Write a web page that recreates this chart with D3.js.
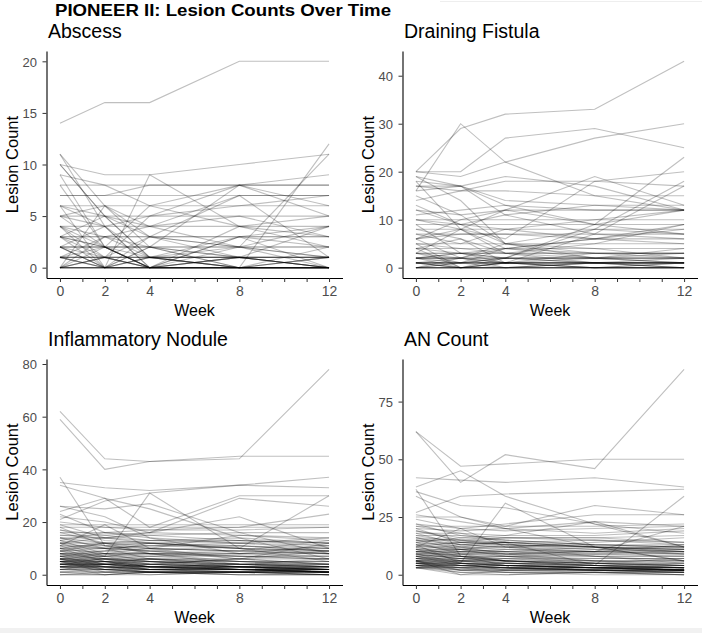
<!DOCTYPE html>
<html>
<head>
<meta charset="utf-8">
<script src="https://cdn.jsdelivr.net/npm/d3@7"></script>
<style>
  html, body { margin: 0; padding: 0; background: #fff; }
  svg { display: block; font-family: "Liberation Sans", Arial, Helvetica, sans-serif; }
</style>
</head>
<body>
<svg id="chart" width="702" height="633"></svg>
<script>
const chartTitle = "PIONEER II: Lesion Counts Over Time";
const weeks = [0, 2, 4, 8, 12];
const xTickValues = [0,1,2,3,4,5,6,7,8,9,10,11,12];
const xTickLabels = [0, 2, 4, 8, 12];
const panelTitles = ["Abscess", "Draining Fistula", "Inflammatory Nodule", "AN Count"];
const yTicksAbscess = [0, 5, 10, 15, 20];
const yTicksFistula = [0, 10, 20, 30, 40];
const yTicksNodule = [0, 20, 40, 60, 80];
const yTicksAN = [0, 25, 50, 75];

// per-patient counts at weeks 0,2,4,8,12
const abscessData = [
[14,16,16,20,20],[10,9,9,10,11],[11,6,2,0,12],[11,4,0,1,1],[10,5,1,0,0],[9,8,6,8,9],[9,2,0,0,0],
[8,8,8,8,8],[7,7,8,8,8],[7,7,7,7,7],[6,6,6,6,6],[6,5,4,7,7],[6,0,9,4,3],[5,5,5,5,5],[5,4,5,8,5],
[5,6,3,2,11],[5,2,0,3,4],[4,4,4,4,4],[4,1,5,6,7],[4,3,2,8,6],[4,0,0,3,0],[3,3,3,3,3],[3,3,3,3,3],
[3,5,1,2,4],[3,0,2,0,0],[3,2,6,4,2],[2,2,2,2,2],[2,2,2,2,2],[2,0,1,1,0],[2,1,0,4,5],[2,0,0,0,1],
[2,4,1,0,0],[1,1,1,1,1],[1,1,1,1,1],[1,0,1,0,1],[1,2,0,0,0],[1,3,4,5,3],[1,0,0,1,0],[0,0,0,0,0],
[0,0,0,0,0],[0,0,0,0,0],[0,1,0,0,0],[0,0,1,0,0],[0,2,0,1,0],[0,0,0,0,0],[0,3,1,0,2],[0,1,3,7,1],
[0,6,4,2,1],[1,0,2,1,0],[8,2,0,0,0],[10,5,3,2,1],[6,4,0,2,0],[3,1,0,0,0],[2,0,3,1,0],[0,0,0,1,4],
[2,2,0,0,1],[1,1,0,0,0],[3,2,2,1,1],[0,1,1,1,0],[4,2,1,3,2]
];
const fistulaData = [
[20,29,32,33,43],[16,30,22,15,12],[20,20,27,29,25],[20,19,22,27,30],[19,17,13,9,7],[18,8,3,1,2],
[17,17,19,17,12],[17,16,18,18,20],[16,17,14,13,12],[15,11,5,3,2],[14,16,16,15,15],[12,11,12,12,12],
[12,9,11,13,13],[11,12,13,12,12],[10,10,10,10,10],[10,8,4,2,1],[9,9,9,9,9],[9,3,2,8,18],[8,8,8,8,8],
[8,6,1,0,0],[7,7,7,7,7],[7,5,8,10,12],[6,8,12,19,13],[6,7,7,6,5],[6,2,1,7,17],[5,5,5,5,5],[5,4,3,5,9],
[5,0,1,0,0],[4,4,4,4,4],[4,6,3,2,4],[4,0,2,9,23],[3,3,3,3,3],[3,2,1,3,3],[3,3,3,3,3],[3,1,4,6,8],
[2,2,2,2,2],[2,2,2,2,2],[2,1,2,1,1],[2,3,1,2,2],[2,2,5,4,2],[1,1,1,1,1],[1,1,1,1,1],[1,1,1,1,1],
[1,0,1,0,1],[1,2,0,1,1],[1,0,1,1,0],[0,0,0,0,0],[0,0,0,0,0],[0,0,0,0,0],[0,1,0,0,0],[0,0,0,1,0],
[0,0,1,0,0],[0,1,1,1,0],[0,0,0,0,1],[1,0,0,0,0],[2,0,0,1,1],[13,9,5,8,7],[18,17,11,7,6],[10,9,8,6,9],
[3,8,6,18,17],[0,2,4,6,6],[19,14,5,2,1],[6,10,12,9,12],[2,3,2,2,3],[1,1,2,1,1],[4,3,4,3,3]
];
const noduleData = [
[62,44,43,44,78],[59,40,43,45,45],[35,33,32,34,33],[21,28,31,34,37],[37,11,8,4,3],[34,29,18,30,30],
[26,25,27,16,8],[24,29,25,14,6],[12,7,31,10,5],[22,20,16,29,26],[20,18,17,18,23],[19,19,19,19,19],
[18,18,18,18,18],[17,15,16,22,10],[16,16,17,17,18],[15,14,12,10,30],[14,14,15,16,16],[13,16,14,12,14],
[12,12,12,13,12],[11,19,10,6,4],[11,10,9,8,11],[10,8,10,9,13],[10,10,11,11,10],[9,9,8,7,6],
[9,12,10,15,14],[9,5,3,2,1],[8,8,8,8,8],[8,7,9,11,9],[8,4,6,5,4],[7,7,7,7,7],[7,6,5,4,6],[7,9,12,10,8],
[7,3,1,1,2],[6,6,6,6,6],[6,5,6,4,3],[6,8,7,5,5],[6,4,2,3,2],[6,2,4,6,9],[5,5,5,5,5],[5,5,4,3,3],
[5,4,5,4,2],[5,6,7,8,7],[5,3,2,2,1],[5,7,4,6,12],[5,1,0,1,1],[4,4,4,4,4],[4,4,3,3,2],[4,3,4,2,3],
[4,5,6,5,4],[4,2,1,1,0],[4,6,3,4,5],[4,3,2,3,2],[4,4,5,2,1],[3,3,3,3,3],[3,3,2,2,2],[3,4,4,3,2],
[3,2,3,4,4],[3,0,1,0,0],[3,5,2,1,1],[3,3,3,2,3],[2,2,2,2,2],[2,1,2,1,1],[2,3,2,3,4],[2,2,1,0,0],
[2,4,3,2,2],[1,1,1,1,1],[1,2,1,1,0],[1,0,1,2,1],[0,0,0,1,0],[0,1,1,0,0],[16,12,8,5,3],[14,10,6,3,2],
[13,8,5,3,1],[12,10,9,6,4],[11,6,4,3,2],[10,5,3,2,1],[9,7,6,4,3],[8,6,5,3,2],[26,22,14,8,9],
[23,16,15,13,11],[19,14,13,12,10],[18,11,9,7,7],[17,13,12,11,9],[15,15,13,13,12],[14,12,11,10,9],
[13,11,10,9,8],[12,14,16,15,13],[11,11,12,10,9],[10,12,13,14,12],[9,10,11,12,11],[8,9,10,9,8],
[7,8,8,9,10],[6,7,8,7,6],[5,6,5,4,3],[4,5,4,3,3],[3,4,3,2,1],[6,3,2,2,2],[5,2,2,1,2],[7,4,3,2,1],
[0,0,1,1,0],[5,4,3,3,2],[4,4,2,2,1],[6,5,3,2,2],[3,2,1,1,1]
];
const anData = [
[62,47,48,50,50],[62,40,52,46,89],[38,45,34,22,12],[42,41,40,42,38],[27,34,35,36,37],[36,30,29,22,18],
[37,8,4,3,2],[34,25,20,12,6],[25,25,21,30,26],[13,5,31,12,6],[21,18,14,4,34],[26,23,20,23,21],
[24,20,22,26,26],[22,20,19,20,21],[21,21,21,21,22],[20,19,20,18,20],[19,16,17,17,19],[18,18,17,23,12],
[17,17,16,16,17],[16,13,12,14,16],[16,15,16,15,14],[15,15,14,13,13],[14,12,11,10,21],[14,16,15,13,12],
[13,10,9,8,8],[13,14,13,12,11],[12,12,12,11,12],[12,20,12,8,5],[11,11,10,9,10],[11,9,8,6,6],
[10,10,10,10,10],[10,8,6,5,4],[10,11,13,12,9],[9,9,9,9,9],[9,7,5,3,2],[9,10,9,10,13],[8,8,8,8,8],
[8,6,7,6,5],[8,5,2,2,1],[8,9,10,12,10],[7,7,7,7,7],[7,6,5,4,5],[7,4,3,2,2],[7,8,6,5,7],[6,6,6,6,6],
[6,5,5,4,3],[6,4,4,3,2],[6,7,8,9,8],[6,3,1,1,1],[5,5,5,5,5],[5,5,4,3,3],[5,4,3,2,2],[5,6,6,5,4],
[5,2,3,2,1],[5,4,5,4,3],[4,4,4,4,4],[4,3,3,2,2],[4,5,4,3,2],[4,2,1,1,0],[4,3,4,3,3],[3,3,3,3,3],
[3,2,2,2,2],[3,4,3,2,1],[3,1,0,1,1],[3,3,2,3,4],[16,12,9,6,4],[15,11,8,5,3],[14,9,6,4,2],
[13,11,10,8,6],[12,8,6,4,3],[11,6,4,3,2],[10,8,7,5,4],[9,7,6,4,3],[22,17,15,13,12],[20,14,14,12,11],
[19,15,13,12,10],[18,13,12,10,9],[17,14,13,11,10],[15,13,14,12,12],[12,14,16,16,14],[11,13,14,12,11],
[10,12,14,15,13],[9,11,12,13,12],[8,10,11,10,9],[7,9,9,10,11],[6,8,8,7,7],[5,7,6,5,4],[4,6,5,4,3],
[3,5,4,3,2],[8,4,3,3,3],[6,2,2,2,1],[9,5,4,3,2],[3,0,0,1,0],[4,1,1,0,0],[6,0,2,1,0],[5,3,3,2,2],
[4,4,3,3,2],[7,5,4,3,3]
];

const panels = [
  { title: panelTitles[0], data: abscessData, yTicks: yTicksAbscess, x0: 46.5, x1: 342.5, y0: 51, y1: 278 },
  { title: panelTitles[1], data: fistulaData, yTicks: yTicksFistula, x0: 402.5, x1: 697.5, y0: 51, y1: 278 },
  { title: panelTitles[2], data: noduleData, yTicks: yTicksNodule, x0: 46.5, x1: 342.5, y0: 359, y1: 585 },
  { title: panelTitles[3], data: anData, yTicks: yTicksAN, x0: 402.5, x1: 697.5, y0: 359, y1: 585 }
];

const svg = d3.select("#chart");
svg.append("rect").attr("x", 0).attr("y", 628).attr("width", 702).attr("height", 5).attr("fill", "#f1f1f1");
svg.append("line").attr("x1", 440).attr("x2", 702).attr("y1", 1.5).attr("y2", 1.5)
  .attr("stroke", "#eeeeee").attr("stroke-width", 1);

svg.append("text").attr("x", 55).attr("y", 15.5)
  .attr("font-size", 16.5).attr("font-weight", "bold").attr("fill", "#000")
  .attr("textLength", 336).attr("lengthAdjust", "spacingAndGlyphs")
  .text(chartTitle);

panels.forEach(p => {
  const xMin = d3.min(weeks), xMax = d3.max(weeks);
  const xPad = (xMax - xMin) * 0.05;
  const x = d3.scaleLinear().domain([xMin - xPad, xMax + xPad]).range([p.x0, p.x1]);
  const yMax = d3.max(p.data, r => d3.max(r)), yMin = d3.min(p.data, r => d3.min(r));
  const yPad = (yMax - yMin) * 0.05;
  const y = d3.scaleLinear().domain([yMin - yPad, yMax + yPad]).range([p.y1, p.y0]);

  const g = svg.append("g");
  const line = d3.line().x((d, i) => x(weeks[i])).y(d => y(d));
  g.append("g").selectAll("path").data(p.data).join("path")
    .attr("d", line).attr("fill", "none")
    .attr("stroke", "#000").attr("stroke-opacity", 0.25).attr("stroke-width", 1.1);

  const xAxis = d3.axisBottom(x).tickValues(xTickValues).tickSizeOuter(0).tickSizeInner(4)
    .tickFormat(d => xTickLabels.includes(d) ? d : "");
  const gx = g.append("g").attr("transform", `translate(0,${p.y1})`).call(xAxis);
  gx.select(".domain").attr("stroke", "#000").attr("stroke-width", 1.1);
  gx.selectAll(".tick line").attr("stroke", "#333").attr("stroke-width", 1);
  gx.selectAll(".tick text").attr("fill", "#4d4d4d").attr("font-size", 14)
    .attr("font-family", "Liberation Sans, Arial, sans-serif").attr("dy", null).attr("y", 17.5);

  const yAxis = d3.axisLeft(y).tickValues(p.yTicks).tickSizeOuter(0).tickSizeInner(4);
  const gy = g.append("g").attr("transform", `translate(${p.x0},0)`).call(yAxis);
  gy.select(".domain").attr("stroke", "#000").attr("stroke-width", 1.1);
  gy.selectAll(".tick line").attr("stroke", "#333").attr("stroke-width", 1);
  gy.selectAll(".tick text").attr("fill", "#4d4d4d").attr("font-size", 13)
    .attr("font-family", "Liberation Sans, Arial, sans-serif").attr("x", -9.5).attr("dy", "0.36em");

  g.append("text").attr("x", p.x0 + 1.5).attr("y", p.y0 - 13)
    .attr("font-size", 19.5).attr("fill", "#000").text(p.title);
  g.append("text").attr("x", (p.x0 + p.x1) / 2).attr("y", p.y1 + 38.3)
    .attr("text-anchor", "middle").attr("font-size", 16).attr("fill", "#000").text("Week");
  g.append("text").attr("transform", `translate(${p.x0 - 28.5},${(p.y0 + p.y1) / 2}) rotate(-90)`)
    .attr("text-anchor", "middle").attr("font-size", 16.5).attr("fill", "#000").text("Lesion Count");
});
</script>
</body>
</html>
